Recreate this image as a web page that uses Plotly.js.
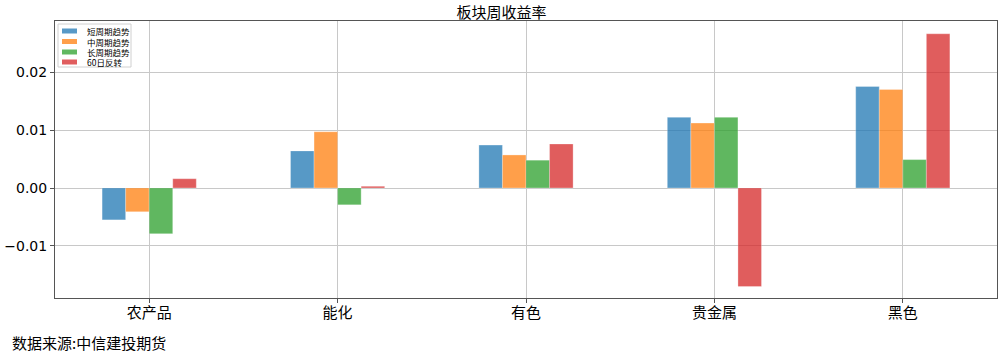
<!DOCTYPE html>
<html><head><meta charset="utf-8">
<script src="https://cdn.plot.ly/plotly-3.0.1.min.js"></script>
<style>html,body{margin:0;padding:0;background:#fff}#c{width:1003px;height:354px}</style>
</head><body><div id="c"></div>
<script>
const categories = ["农产品","能化","有色","贵金属","黑色"];
const seriesNames = ["短周期趋势","中周期趋势","长周期趋势","60日反转"];
const shortTrend = [-0.0055, 0.0064, 0.0074, 0.0122, 0.0175];
const midTrend   = [-0.0041, 0.0097, 0.0057, 0.0112, 0.0170];
const longTrend  = [-0.0079, -0.0029, 0.0048, 0.0122, 0.0049];
const reversal60 = [0.0016, 0.0003, 0.0076, -0.0170, 0.0266];
const colors = ["#1f77b4","#ff7f0e","#2ca02c","#d62728"];
const seriesVals = [shortTrend, midTrend, longTrend, reversal60];

const font = "Noto Sans CJK SC, DejaVu Sans, sans-serif";
const W = 1003, H = 354, ML = 55, MR = 6, MT = 21, MB = 56;
const PW = W - ML - MR, PH = H - MT - MB;
const px = x => (x - ML) / PW;       // pixel -> paper x
const py = y => (H - MB - y) / PH;    // pixel -> paper y

const traces = seriesVals.map((v,i)=>({
  type:"bar", x:categories, y:v, name:seriesNames[i],
  marker:{color:colors[i], opacity:0.75, line:{color:"rgba(255,255,255,0.6)", width:0.5}}
}));

// custom compact legend
const shapes = [{type:"rect", xref:"paper", yref:"paper", x0:px(58), x1:px(131), y0:py(67), y1:py(24),
  fillcolor:"rgba(255,255,255,0.85)", line:{color:"#d0d0d0", width:1}, layer:"above"}];
const annotations = [];
const rowY = [31, 41.5, 52, 62];
seriesNames.forEach((n,i)=>{
  shapes.push({type:"rect", xref:"paper", yref:"paper", x0:px(62), x1:px(77), y0:py(rowY[i]+2.5), y1:py(rowY[i]-2.5),
    fillcolor:colors[i], opacity:0.75, line:{width:0}, layer:"above"});
  annotations.push({text:n, xref:"paper", yref:"paper", x:px(85), y:py(rowY[i]), xanchor:"left", yanchor:"middle",
    showarrow:false, font:{size:8.5, family:font}});
});
annotations.push({text:"数据来源:中信建投期货", xref:"paper", yref:"paper", x:px(10), y:py(342),
  xanchor:"left", yanchor:"middle", showarrow:false, font:{size:15, family:font}});

const layout = {
  width:W, height:H,
  margin:{l:ML, r:MR, t:MT, b:MB},
  paper_bgcolor:"#fff", plot_bgcolor:"#fff",
  font:{family:font, color:"#000"},
  title:{text:"板块周收益率", x:0.5, xanchor:"center", y:0.965, yanchor:"middle", font:{size:15, family:font}},
  barmode:"group", bargap:0.5, bargroupgap:0,
  showlegend:false,
  xaxis:{range:[-0.5,4.5], showgrid:true, gridcolor:"#c8c8c8", gridwidth:1,
    showline:true, linecolor:"#555", linewidth:1, mirror:true,
    ticks:"outside", ticklen:4, tickcolor:"#555", ticklabelstandoff:-3, tickfont:{size:15, family:font}},
  yaxis:{range:[-0.01897, 0.0288], tickvals:[-0.01,0,0.01,0.02], tickformat:".2f",
    showgrid:true, gridcolor:"#c8c8c8", gridwidth:1, zeroline:false,
    showline:true, linecolor:"#555", linewidth:1, mirror:true,
    ticks:"outside", ticklen:4, tickcolor:"#555", tickfont:{size:14, family:"DejaVu Sans, sans-serif"}},
  shapes, annotations
};
Plotly.newPlot("c", traces, layout, {displayModeBar:false});
</script></body></html>
